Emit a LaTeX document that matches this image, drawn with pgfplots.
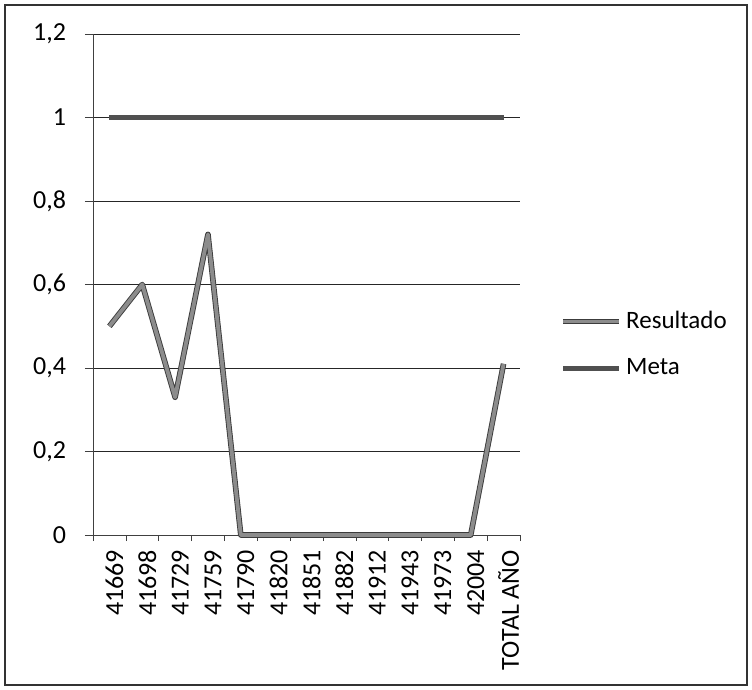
\documentclass[border=0pt]{standalone}
\usepackage{pgfplots}
\pgfplotsset{compat=1.18}
\usepackage{fontspec}
\setmainfont{Carlito}
\definecolor{resgray}{HTML}{8C8C8C}
\definecolor{resedge}{HTML}{3C3C3C}
\definecolor{metagray}{HTML}{505050}
\pgfplotstableread{
x res meta
0 0.50 1
1 0.60 1
2 0.33 1
3 0.72 1
4 0 1
5 0 1
6 0 1
7 0 1
8 0 1
9 0 1
10 0 1
11 0 1
12 0.41 1
}\datatable
\begin{document}
\begin{tikzpicture}
\useasboundingbox (0,0) rectangle (376pt,-345pt);
\draw[black!80, line width=0.6pt] (2.5pt,-2.5pt) rectangle (373.5pt,-342.5pt);
\begin{axis}[
  at={(46.5pt,-267.5pt)}, anchor=south west,
  scale only axis,
  width=213.5pt, height=250.5pt,
  xmin=-0.5, xmax=12.5,
  ymin=0, ymax=1.2,
  axis lines*=left,
  axis line style={black!75, line width=0.5pt},
  xtick={0,...,12},
  xticklabels={41669,41698,41729,41759,41790,41820,41851,41882,41912,41943,41973,42004,TOTAL AÑO},
  major x tick style={draw=none},
  minor xtick={-0.5,0.5,...,12.5},
  minor x tick style={black!75},
  minor tick length=3pt,
  ytick={0,0.2,...,1.2},
  tick align=outside,
  major tick length=4pt,
  y tick style={black!75},
  ymajorgrids,
  grid style={black!85, line width=0.5pt},
  yticklabel={\pgfmathprintnumber[fixed, precision=1, use comma]{\tick}},
  /pgf/number format/assume math mode=true,
  tick label style={font=\fontsize{13}{15}\selectfont},
  xticklabel style={rotate=90, anchor=east, yshift=-2.5pt},
  yticklabel style={xshift=-6pt},
  legend style={at={(1.08,0.38)}, anchor=west, draw=none, fill=none,
    font=\fontsize{12.5}{14}\selectfont, row sep=9.5pt,
    legend cell align=left},
  legend image code/.code={\draw[#1] (0pt,0pt) -- (28pt,0pt);},
  clip=false,
]
\addplot[color=resgray, line width=1.9pt, line join=round,
  preaction={draw, resedge, line width=2.8pt}] table[x=x, y=res] {\datatable};
\addlegendentry{Resultado}
\addplot[color=metagray, line width=2.4pt] table[x=x, y=meta] {\datatable};
\addlegendentry{Meta}
\end{axis}
\end{tikzpicture}
\end{document}
